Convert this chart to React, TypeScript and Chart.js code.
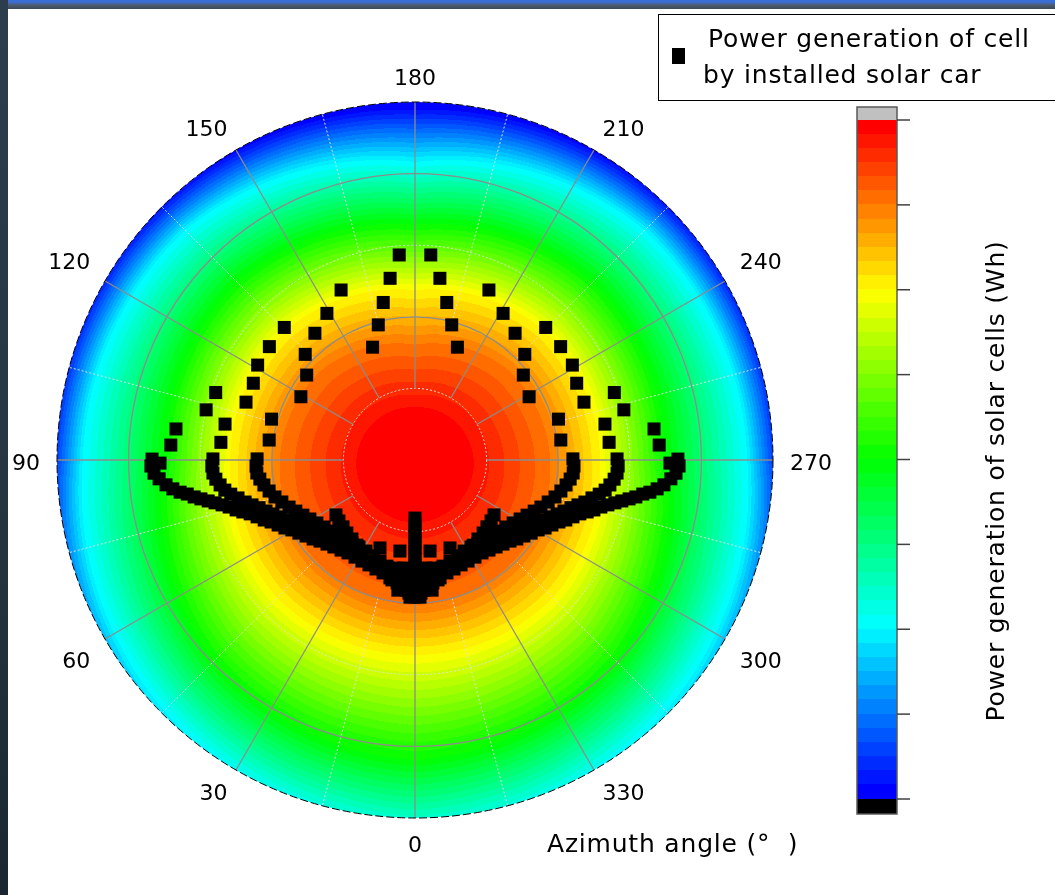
import React, { useEffect, useRef } from "react";
import { Chart, registerables } from "chart.js";

Chart.register(...registerables);

const W = 1055;
const H = 895;
const DEG = Math.PI / 180;

// ---------- axes / ticks ----------
const azimuthTicks = [0, 30, 60, 90, 120, 150, 180, 210, 240, 270, 300, 330];
const radialMax = 90;
const majorRings = [36, 72];
const minorRings = [18, 54];
const majorSpokeStart = 18;
const minorSpokeStart = 36;

// ---------- colour field (radius where each level is reached, per direction) ----------
const fieldDirections = [0, 45, 90, 135, 180];
const fieldLevels = [1, 0.98, 0.875, 0.75, 0.5, 0.25, 0];
const fieldRadiiAt0 = [0, 15.6, 36.5, 49.0, 75.4, 94.3, 110.6];
const fieldRadiiAt45 = [0, 15.2, 35.5, 49.0, 71.6, 89.2, 103.0];
const fieldRadiiAt90 = [0, 14.6, 34.0, 46.5, 62.8, 83.5, 92.5];
const fieldRadiiAt135 = [0, 13.8, 32.5, 46.0, 63.3, 81.7, 91.0];
const fieldRadiiAt180 = [0, 13.1, 29.0, 42.7, 59.1, 74.9, 89.2];
const fieldRadii = [fieldRadiiAt0, fieldRadiiAt45, fieldRadiiAt90, fieldRadiiAt135, fieldRadiiAt180];
const colorSteps = 48;
const colorbarTickCount = 9;

// ---------- markers: [azimuth deg, radius] ----------
const upperLeft: [number, number][] = [
  [175.6, 51.7], [172.2, 46.1], [168.6, 40.4], [164.8, 35.2], [159.4, 30.3],
  [156.5, 46.6], [149.0, 43.0], [141.7, 40.6], [133.9, 38.3], [128.1, 34.6], [119.0, 32.8], [105.9, 37.5], [97.8, 37.0],
  [135.4, 46.8], [127.9, 46.4], [121.1, 46.2], [115.4, 45.0], [108.9, 44.9], [100.7, 48.6], [95.2, 49.0],
  [108.7, 52.9], [103.5, 54.0], [97.4, 60.6], [93.5, 61.5],
];
const upperRight: [number, number][] = [
  [184.4, 51.7], [187.8, 46.1], [191.4, 40.4], [195.2, 35.2], [200.6, 30.3],
  [203.5, 46.6], [211.0, 43.0], [218.3, 40.6], [226.1, 38.3], [231.9, 34.6], [241.0, 32.8], [254.1, 37.5], [262.2, 37.0],
  [224.6, 46.8], [232.1, 46.4], [238.9, 46.2], [244.6, 45.0], [251.1, 44.9], [259.3, 48.6], [264.8, 49.0],
  [251.3, 52.9], [256.5, 54.0], [262.6, 60.6], [266.5, 61.5],
];
const outerLeft: [number, number][] = [
  [89.3, 64.1], [90.2, 66.1], [88.7, 66.4], [87.1, 65.7], [85.8, 64.5], [84.3, 62.9], [83.2, 61.3], [82.2, 59.6],
  [81.5, 57.9], [80.5, 56.3], [79.7, 54.7], [78.8, 53.0], [77.9, 51.4], [76.9, 49.8], [75.8, 48.2], [74.4, 46.7],
  [73.2, 45.2], [71.9, 43.6], [70.2, 42.2], [68.3, 40.8], [66.7, 39.4], [64.6, 38.1], [62.4, 36.9], [60.4, 35.6],
  [57.8, 34.5], [55.1, 33.4], [52.2, 32.4], [49.5, 31.4], [46.3, 30.6], [43.0, 29.9], [39.4, 29.3], [35.8, 28.8],
  [31.7, 28.7], [27.7, 28.7], [23.7, 28.8], [19.7, 29.1], [15.8, 29.5], [12.0, 30.3], [8.3, 31.2], [5.4, 32.3],
  [2.6, 33.5], [0.4, 34.4],
];
const outerRight: [number, number][] = [
  [270.7, 64.1], [269.8, 66.1], [271.3, 66.4], [272.9, 65.7], [274.2, 64.5], [275.7, 62.9], [276.8, 61.3], [277.8, 59.6],
  [278.5, 57.9], [279.5, 56.3], [280.3, 54.7], [281.2, 53.0], [282.1, 51.4], [283.1, 49.8], [284.2, 48.2], [285.6, 46.7],
  [286.8, 45.2], [288.1, 43.6], [289.8, 42.2], [291.7, 40.8], [293.3, 39.4], [295.4, 38.1], [297.6, 36.9], [299.6, 35.6],
  [302.2, 34.5], [304.9, 33.4], [307.8, 32.4], [310.5, 31.4], [313.7, 30.6], [317.0, 29.9], [320.6, 29.3], [324.2, 28.8],
  [328.3, 28.7], [332.3, 28.7], [336.3, 28.8], [340.3, 29.1], [344.2, 29.5], [348.0, 30.3], [351.7, 31.2], [354.6, 32.3],
  [357.4, 33.5], [359.6, 34.4],
];
const middleLeft: [number, number][] = [
  [90.3, 50.8], [88.3, 51.1], [86.3, 50.9], [84.5, 50.3], [82.7, 49.4], [81.0, 48.4], [79.5, 47.1], [77.9, 45.5],
  [76.1, 44.0], [74.6, 42.5], [73.0, 41.0], [71.1, 39.6], [69.2, 38.2], [67.1, 36.8], [64.9, 35.5], [62.5, 34.3],
  [59.9, 33.1], [57.2, 32.0], [54.2, 31.0], [51.1, 30.0], [47.8, 29.2], [44.3, 28.4], [40.6, 27.8], [36.8, 27.3],
  [32.5, 27.1], [28.2, 27.1], [24.0, 27.2], [19.8, 27.5], [15.5, 28.2], [11.5, 29.0], [7.7, 29.9], [4.2, 31.0],
];
const middleRight: [number, number][] = [
  [269.7, 50.8], [271.7, 51.1], [273.7, 50.9], [275.5, 50.3], [277.3, 49.4], [279.0, 48.4], [280.5, 47.1], [282.1, 45.5],
  [283.9, 44.0], [285.4, 42.5], [287.0, 41.0], [288.9, 39.6], [290.8, 38.2], [292.9, 36.8], [295.1, 35.5], [297.5, 34.3],
  [300.1, 33.1], [302.8, 32.0], [305.8, 31.0], [308.9, 30.0], [312.2, 29.2], [315.7, 28.4], [319.4, 27.8], [323.2, 27.3],
  [327.5, 27.1], [331.8, 27.1], [336.0, 27.2], [340.2, 27.5], [344.5, 28.2], [348.5, 29.0], [352.3, 29.9], [355.8, 31.0],
];
const innerLeft: [number, number][] = [
  [90.4, 39.7], [87.8, 40.0], [85.3, 39.9], [83.0, 39.3], [80.6, 38.5], [78.0, 37.5], [75.2, 36.4], [72.5, 35.1],
  [69.5, 33.8], [66.8, 32.6], [63.8, 31.4], [60.7, 30.3], [57.3, 29.3], [53.6, 28.4], [49.8, 27.7], [45.8, 27.0],
  [41.5, 26.5], [37.2, 26.2], [32.8, 26.0], [28.3, 26.0], [23.6, 26.3], [19.1, 26.9], [14.8, 27.6], [10.7, 28.4], [6.9, 29.4],
];
const innerRight: [number, number][] = [
  [269.6, 39.7], [272.2, 40.0], [274.7, 39.9], [277.0, 39.3], [279.4, 38.5], [282.0, 37.5], [284.8, 36.4], [287.5, 35.1],
  [290.5, 33.8], [293.2, 32.6], [296.2, 31.4], [299.3, 30.3], [302.7, 29.3], [306.4, 28.4], [310.2, 27.7], [314.2, 27.0],
  [318.5, 26.5], [322.8, 26.2], [327.2, 26.0], [331.7, 26.0], [336.4, 26.3], [340.9, 26.9], [345.2, 27.6], [349.3, 28.4], [353.1, 29.4],
];
const stubLeft: [number, number][] = [
  [55.2, 24.2], [51.3, 24.5], [47.1, 24.7], [43.0, 25.1], [38.6, 25.4], [34.3, 25.9],
];
const stubRight: [number, number][] = [
  [304.8, 24.2], [308.7, 24.5], [312.9, 24.7], [317.0, 25.1], [321.4, 25.4], [325.7, 25.9],
];
const centerColumn: [number, number][] = [
  [0, 14.6], [0, 16.1], [0, 17.6], [0, 19.1], [0, 20.6], [0, 22.1], [0, 23.6],
  [0, 25.1], [0, 26.7], [0, 28.2], [0, 29.7], [0, 31.2], [0, 32.7], [0, 34.2],
];
const gapSquares: [number, number][] = [
  [21.7, 23.8], [9.4, 23.2], [338.3, 23.8], [350.6, 23.2],
];
const bottomLeft: [number, number][] = [
  [14.0, 28.0], [10.0, 27.6], [5.8, 27.3], [10.9, 30.7], [7.1, 30.4], [3.3, 30.2], [7.5, 33.0], [4.0, 32.8], [2.1, 34.5],
];
const bottomRight: [number, number][] = [
  [346.0, 28.0], [350.0, 27.6], [354.2, 27.3], [349.1, 30.7], [352.9, 30.4], [356.7, 30.2], [352.5, 33.0], [356.0, 32.8], [357.9, 34.5],
];

const legendLines = ["Power generation of cell", "by installed solar car"];
const xTitle = "Azimuth angle (°  )";
const colorbarTitle = "Power generation of solar cells (Wh)";

const FONT = '"DejaVu Sans", "Liberation Sans", sans-serif';

function jet(v: number): [number, number, number] {
  const t = Math.max(0, Math.min(1, v));
  if (t >= 0.75) return [255, Math.round((255 * (1 - t)) / 0.25), 0];
  if (t >= 0.5) return [Math.round((255 * (t - 0.5)) / 0.25), 255, 0];
  if (t >= 0.25) return [0, 255, Math.round((255 * (0.5 - t)) / 0.25)];
  return [0, Math.round((255 * t) / 0.25), 255];
}
function stepColor(v: number): [number, number, number] {
  const i = Math.max(0, Math.min(colorSteps - 1, Math.floor((1 - v) * colorSteps)));
  return jet(1 - i / (colorSteps - 1));
}
function fieldValue(az: number, r: number): number {
  let a = ((az % 360) + 360) % 360;
  if (a > 180) a = 360 - a;
  let k = 0;
  while (k < fieldDirections.length - 2 && a > fieldDirections[k + 1]) k++;
  const f = (a - fieldDirections[k]) / (fieldDirections[k + 1] - fieldDirections[k]);
  const radii = fieldLevels.map((_, j) => fieldRadii[k][j] * (1 - f) + fieldRadii[k + 1][j] * f);
  if (r >= radii[radii.length - 1]) return 0;
  for (let j = 0; j < radii.length - 1; j++) {
    if (r <= radii[j + 1]) {
      const g = (r - radii[j]) / (radii[j + 1] - radii[j]);
      return fieldLevels[j] * (1 - g) + fieldLevels[j + 1] * g;
    }
  }
  return 0;
}

const polarPlugin = {
  id: "polarDecor",
  beforeDatasetsDraw(chart: any) {
    const { ctx, chartArea } = chart;
    const xs = chart.scales.x;
    const ys = chart.scales.y;
    const P = (az: number, r: number) => ({
      x: xs.getPixelForValue(-r * Math.sin(az * DEG)),
      y: ys.getPixelForValue(-r * Math.cos(az * DEG)),
    });
    const c0 = P(0, 0);
    const pr = (r: number) => xs.getPixelForValue(r) - xs.getPixelForValue(0);

    // colour field
    if (!chart.$field) {
      const w = Math.round(chartArea.right - chartArea.left);
      const h = Math.round(chartArea.bottom - chartArea.top);
      const off = document.createElement("canvas");
      off.width = w;
      off.height = h;
      const octx = off.getContext("2d")!;
      const img = octx.createImageData(w, h);
      for (let j = 0; j < h; j++) {
        const vy = ys.getValueForPixel(chartArea.top + j + 0.5);
        for (let i = 0; i < w; i++) {
          const vx = xs.getValueForPixel(chartArea.left + i + 0.5);
          const r = Math.hypot(vx, vy);
          if (r > radialMax + 0.3) continue;
          const az = Math.atan2(-vx, -vy) / DEG;
          const [cr, cg, cb] = stepColor(fieldValue(az, r));
          const o = (j * w + i) * 4;
          img.data[o] = cr;
          img.data[o + 1] = cg;
          img.data[o + 2] = cb;
          img.data[o + 3] = 255;
        }
      }
      octx.putImageData(img, 0, 0);
      chart.$field = off;
    }
    ctx.save();
    ctx.beginPath();
    ctx.arc(c0.x, c0.y, pr(radialMax), 0, Math.PI * 2);
    ctx.clip();
    ctx.drawImage(chart.$field, chartArea.left, chartArea.top);
    ctx.restore();

    // grid
    ctx.save();
    ctx.lineWidth = 1;
    ctx.strokeStyle = "rgba(225,225,225,0.95)";
    ctx.setLineDash([2, 2]);
    for (const r of minorRings) {
      ctx.beginPath();
      ctx.arc(c0.x, c0.y, pr(r), 0, Math.PI * 2);
      ctx.stroke();
    }
    for (const t of azimuthTicks) {
      const a = P(t + 15, minorSpokeStart);
      const b = P(t + 15, radialMax);
      ctx.beginPath();
      ctx.moveTo(a.x, a.y);
      ctx.lineTo(b.x, b.y);
      ctx.stroke();
    }
    ctx.setLineDash([]);
    ctx.strokeStyle = "#8c8c8c";
    ctx.lineWidth = 1.3;
    for (const r of majorRings) {
      ctx.beginPath();
      ctx.arc(c0.x, c0.y, pr(r), 0, Math.PI * 2);
      ctx.stroke();
    }
    for (const t of azimuthTicks) {
      const a = P(t, majorSpokeStart);
      const b = P(t, radialMax);
      ctx.beginPath();
      ctx.moveTo(a.x, a.y);
      ctx.lineTo(b.x, b.y);
      ctx.stroke();
    }
    ctx.strokeStyle = "#000";
    ctx.lineWidth = 1;
    ctx.setLineDash([8, 3]);
    ctx.beginPath();
    ctx.arc(c0.x, c0.y, pr(radialMax), 0, Math.PI * 2);
    ctx.stroke();
    ctx.setLineDash([]);

    // angle labels
    ctx.fillStyle = "#000";
    ctx.font = `22px ${FONT}`;
    ctx.textBaseline = "alphabetic";
    const gap = pr(94.3);
    const digitH = 16.5;
    for (const t of azimuthTicks) {
      const s = Math.sin(t * DEG);
      const c = Math.cos(t * DEG);
      const ax = c0.x - gap * s;
      ctx.textAlign = s > 0.01 ? "right" : s < -0.01 ? "left" : "center";
      let cy: number;
      if (Math.abs(c) < 0.01) cy = c0.y + 2;
      else {
        cy = c0.y + c * (gap + digitH / 2);
        if (Math.abs(c) < 0.7) cy += 8 * Math.sign(c);
      }
      ctx.fillText(String(t), ax, cy + digitH / 2);
    }
    ctx.restore();
  },
  afterDraw(chart: any) {
    const { ctx } = chart;
    ctx.save();
    // legend
    ctx.fillStyle = "#fff";
    ctx.fillRect(658, 14, 410, 86);
    ctx.strokeStyle = "#000";
    ctx.lineWidth = 1;
    ctx.strokeRect(658.5, 14.5, 410, 86);
    ctx.fillStyle = "#000";
    ctx.fillRect(672, 48, 13, 16);
    ctx.font = `25px ${FONT}`;
    (ctx as any).letterSpacing = "0.8px";
    ctx.textAlign = "left";
    ctx.textBaseline = "alphabetic";
    ctx.fillText(legendLines[0], 708, 47);
    ctx.fillText(legendLines[1], 703, 83);

    // x title
    ctx.fillText(xTitle, 547, 852);

    // colorbar
    const cbL = 857, cbR = 897, cbT = 120, cbB = 799;
    const step = (cbB - cbT) / colorSteps;
    for (let i = 0; i < colorSteps; i++) {
      const [r, g, b] = jet(1 - i / (colorSteps - 1));
      ctx.fillStyle = `rgb(${r},${g},${b})`;
      ctx.fillRect(cbL, Math.floor(cbT + i * step), cbR - cbL, Math.ceil(step) + 1);
    }
    ctx.fillStyle = "#c0c0c0";
    ctx.fillRect(cbL, 107, cbR - cbL, cbT - 107);
    ctx.fillStyle = "#000";
    ctx.fillRect(cbL, cbB, cbR - cbL, 814 - cbB);
    ctx.strokeStyle = "#5a5a5a";
    ctx.lineWidth = 1.5;
    ctx.strokeRect(cbL, 107, cbR - cbL, 814 - 107);
    ctx.strokeStyle = "#404040";
    for (let k = 0; k < colorbarTickCount; k++) {
      const y = cbT + (k * (cbB - cbT)) / (colorbarTickCount - 1);
      ctx.beginPath();
      ctx.moveTo(cbR, y);
      ctx.lineTo(cbR + 13, y);
      ctx.stroke();
    }

    // colorbar title
    ctx.translate(1004, 481);
    ctx.rotate(-Math.PI / 2);
    ctx.fillStyle = "#000";
    ctx.textAlign = "center";
    ctx.fillText(colorbarTitle, 0, 0);
    ctx.restore();
  },
};

const markerGroups = [
  upperLeft, upperRight, outerLeft, outerRight, middleLeft, middleRight,
  innerLeft, innerRight, stubLeft, stubRight, centerColumn, gapSquares, bottomLeft, bottomRight,
];

export default function App() {
  const ref = useRef<HTMLCanvasElement>(null);
  useEffect(() => {
    const canvas = ref.current!;
    const points = markerGroups.flat().map(([az, r]) => ({
      x: -r * Math.sin(az * DEG),
      y: -r * Math.cos(az * DEG),
    }));
    const chart = new Chart(canvas, {
      type: "scatter",
      data: {
        datasets: [
          {
            label: legendLines.join(" "),
            data: points,
            pointStyle: "rect",
            pointRadius: 9.2,
            pointHoverRadius: 9.2,
            backgroundColor: "#000",
            borderColor: "#000",
            borderWidth: 0,
          },
        ],
      },
      options: {
        animation: false,
        responsive: false,
        maintainAspectRatio: false,
        events: [],
        layout: { padding: { left: 57, right: 282, top: 102, bottom: 77 } },
        scales: {
          x: { type: "linear", min: -radialMax, max: radialMax, display: false },
          y: { type: "linear", min: -radialMax, max: radialMax, display: false },
        },
        plugins: { legend: { display: false }, tooltip: { enabled: false } },
      },
      plugins: [polarPlugin],
    } as any);
    return () => chart.destroy();
  }, []);
  return (
    <div style={{ position: "fixed", left: 0, top: 0, width: W, height: H, background: "#fff", overflow: "hidden" }}>
      <canvas ref={ref} width={W} height={H} style={{ position: "absolute", left: 0, top: 0, width: W, height: H }} />
      <div
        style={{
          position: "absolute", left: 0, top: 0, width: W, height: 9,
          background: "linear-gradient(to bottom, #3a6ed6 0px, #3a6ed6 2px, #4d5d72 5px, #3c4959 9px)",
        }}
      />
      <div
        style={{
          position: "absolute", left: 0, top: 0, width: 8, height: H,
          background: "linear-gradient(to bottom, #2c3d4e, #25343f 60%, #1a2731)",
        }}
      />
    </div>
  );
}
